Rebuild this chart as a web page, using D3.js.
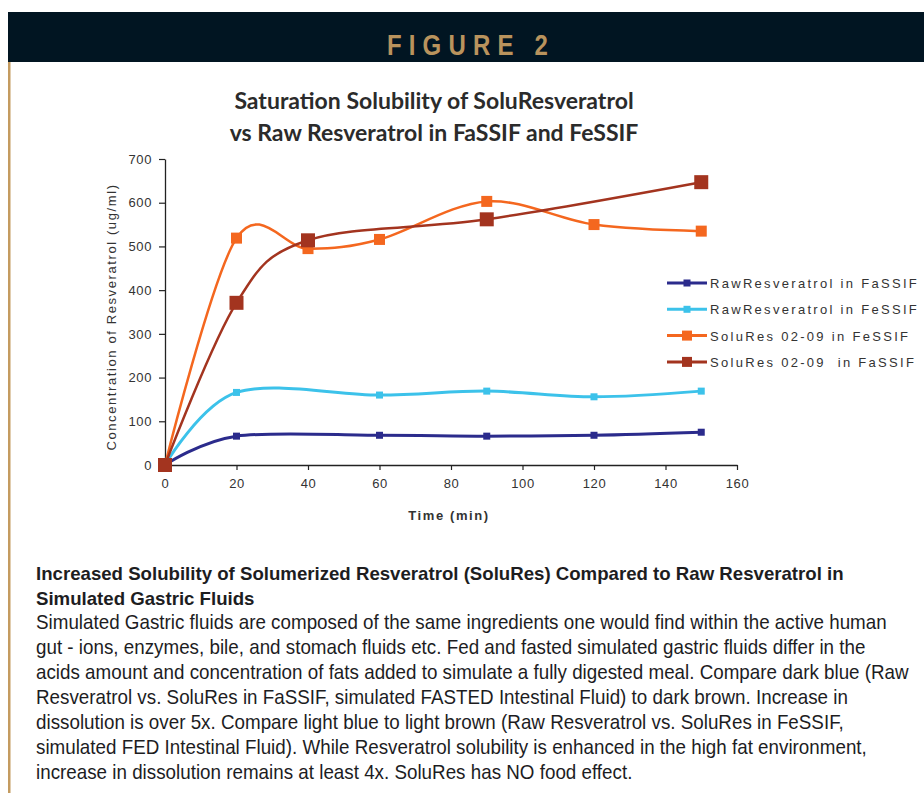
<!DOCTYPE html>
<html>
<head>
<meta charset="utf-8">
<script src="https://d3js.org/d3.v7.min.js"></script>
<style>
  body { margin: 0; background: #fff; }
  svg { display: block; }
</style>
</head>
<body>
<div id="vis"></div>
<script>
// chart data
var times = [0, 20, 40, 60, 90, 120, 150];
var rawFaSSIF = [0, 66, null, 68, 66, 68, 75];
var rawFeSSIF = [0, 166, null, 160, 169, 156, 169];
var soluFeSSIF = [0, 519, 495, 516, 603, 550, 535];
var soluFaSSIF = [0, 371, 514, null, 562, null, 647];

var seriesNames = ['RawResveratrol in FaSSIF', 'RawResveratrol in FeSSIF',
                   'SoluRes 02-09 in FeSSIF', 'SoluRes 02-09  in FaSSIF'];
var xTicks = [0, 20, 40, 60, 80, 100, 120, 140, 160];
var yTicks = [0, 100, 200, 300, 400, 500, 600, 700];

var captionTitle = [
    'Increased Solubility of Solumerized Resveratrol (SoluRes) Compared to Raw Resveratrol in',
    'Simulated Gastric Fluids'
];
var captionBody = [
    'Simulated Gastric fluids are composed of the same ingredients one would find within the active human',
    'gut - ions, enzymes, bile, and stomach fluids etc. Fed and fasted simulated gastric fluids differ in the',
    'acids amount and concentration of fats added to simulate a fully digested meal. Compare dark blue (Raw',
    'Resveratrol vs. SoluRes in FaSSIF, simulated FASTED Intestinal Fluid) to dark brown. Increase in',
    'dissolution is over 5x. Compare light blue to light brown (Raw Resveratrol vs. SoluRes in FeSSIF,',
    'simulated FED Intestinal Fluid). While Resveratrol solubility is enhanced in the high fat environment,',
    'increase in dissolution remains at least 4x. SoluRes has NO food effect.'
];

var width = 924;
var height = 793;

var styles = [
    {color: '#2b2b8c', marker: 7, stroke: 3},
    {color: '#3cc2ea', marker: 7, stroke: 3},
    {color: '#f4671f', marker: 11, stroke: 2.5},
    {color: '#a3341f', marker: 14, stroke: 2.5}
];

var svg = d3.select('#vis').append('svg')
    .attr('width', width)
    .attr('height', height);

// header band
svg.append('rect')
    .attr('x', 8).attr('y', 12)
    .attr('width', width - 8).attr('height', 50)
    .attr('fill', '#011522');
svg.append('rect')
    .attr('x', 8).attr('y', 62)
    .attr('width', 2.5).attr('height', height - 62)
    .attr('fill', '#c49b60');
svg.append('text')
    .attr('transform', 'translate(471,55) scale(0.8,1)')
    .attr('text-anchor', 'middle')
    .style('font-family', '"Liberation Sans", Arial, sans-serif')
    .style('font-weight', 'bold')
    .style('font-size', '30px')
    .style('letter-spacing', '9px')
    .style('fill', '#b9935d')
    .text('FIGURE 2');

// chart title
svg.append('g').selectAll('text')
    .data(['Saturation Solubility of SoluResveratrol', 'vs Raw Resveratrol in FaSSIF and FeSSIF'])
    .enter().append('text')
    .attr('x', 434)
    .attr('y', function (d, i) { return 109 + i * 32; })
    .attr('text-anchor', 'middle')
    .style('font-family', 'Lato, "Open Sans", sans-serif')
    .style('font-weight', 'bold')
    .style('font-size', '23px')
    .style('fill', '#2b2b2b')
    .text(function (d) { return d; });

var x = d3.scaleLinear().domain([0, 160]).range([165, 737]);
var y = d3.scaleLinear().domain([0, 700]).range([465, 159]);

var axisFont = '"Liberation Sans", Arial, sans-serif';

var xAxis = svg.append('g')
    .attr('transform', 'translate(0,' + y(0) + ')')
    .call(d3.axisBottom(x).tickValues(xTicks).tickSize(5).tickPadding(9).tickSizeOuter(0));
var yAxis = svg.append('g')
    .attr('transform', 'translate(' + x(0) + ',0)')
    .call(d3.axisLeft(y).tickValues(yTicks).tickSize(6).tickPadding(7).tickSizeOuter(0));

[xAxis, yAxis].forEach(function (ax) {
    ax.select('.domain').attr('stroke', '#222').attr('stroke-width', 1.3);
    ax.selectAll('.tick line').attr('stroke', '#222').attr('stroke-width', 1.2);
    ax.selectAll('.tick text')
        .style('font-family', axisFont)
        .style('font-size', '13px')
        .style('letter-spacing', '0.6px')
        .style('fill', '#333');
});

svg.append('text')
    .attr('x', 449).attr('y', 520)
    .attr('text-anchor', 'middle')
    .style('font-family', axisFont)
    .style('font-weight', 'bold')
    .style('font-size', '13px')
    .style('letter-spacing', '1.6px')
    .style('fill', '#333')
    .text('Time (min)');

svg.append('text')
    .attr('transform', 'translate(116,317) rotate(-90)')
    .attr('text-anchor', 'middle')
    .style('font-family', axisFont)
    .style('font-size', '13px')
    .style('letter-spacing', '1.6px')
    .style('fill', '#333')
    .text('Concentration of Resveratrol (ug/ml)');

// series
var allSeries = [rawFaSSIF, rawFeSSIF, soluFeSSIF, soluFaSSIF].map(function (vals, i) {
    var pts = [];
    vals.forEach(function (v, j) {
        if (v !== null) pts.push({t: times[j], v: v});
    });
    return {name: seriesNames[i], points: pts, style: styles[i]};
});

var line = d3.line()
    .x(function (d) { return x(d.t); })
    .y(function (d) { return y(d.v); })
    .curve(d3.curveCardinal.tension(0));

var seriesG = svg.append('g').selectAll('g')
    .data(allSeries)
    .enter().append('g');

seriesG.append('path')
    .attr('d', function (d) { return line(d.points); })
    .attr('fill', 'none')
    .attr('stroke', function (d) { return d.style.color; })
    .attr('stroke-width', function (d) { return d.style.stroke; });

seriesG.each(function (s) {
    d3.select(this).selectAll('rect')
        .data(s.points)
        .enter().append('rect')
        .attr('x', function (d) { return x(d.t) - s.style.marker / 2; })
        .attr('y', function (d) { return y(d.v) - s.style.marker / 2; })
        .attr('width', s.style.marker)
        .attr('height', s.style.marker)
        .attr('fill', s.style.color);
});

// legend
var legend = svg.append('g').selectAll('g')
    .data(allSeries)
    .enter().append('g')
    .attr('transform', function (d, i) { return 'translate(667,' + (283 + i * 26.3) + ')'; });

legend.append('line')
    .attr('x1', 0).attr('x2', 40)
    .attr('stroke', function (d) { return d.style.color; })
    .attr('stroke-width', 3);
legend.append('rect')
    .attr('x', function (d) { return 20 - Math.min(d.style.marker, 10) / 2; })
    .attr('y', function (d) { return -Math.min(d.style.marker, 10) / 2; })
    .attr('width', function (d) { return Math.min(d.style.marker, 10); })
    .attr('height', function (d) { return Math.min(d.style.marker, 10); })
    .attr('fill', function (d) { return d.style.color; });
legend.append('text')
    .attr('x', 43).attr('y', 5)
    .style('font-family', axisFont)
    .style('font-size', '13px')
    .style('letter-spacing', '2.3px')
    .style('fill', '#333')
    .style('white-space', 'pre')
    .text(function (d) { return d.name; });

// caption: condensed look by squeezing the text horizontally
function captionBlock(lines, y0, size, weight, targetWidth) {
    var g = svg.append('g');
    var texts = g.selectAll('text')
        .data(lines)
        .enter().append('text')
        .attr('x', 0)
        .attr('y', function (d, i) { return y0 + i * 25; })
        .style('font-family', axisFont)
        .style('font-weight', weight)
        .style('font-size', size)
        .style('fill', '#1d1d1f')
        .text(function (d) { return d; });
    var w = texts.node().getComputedTextLength();
    g.attr('transform', 'translate(36,0) scale(' + (targetWidth / w) + ',1)');
}

captionBlock(captionTitle, 580, '19px', 'bold', 808);
captionBlock(captionBody, 629, '20px', 'normal', 851);
</script>
</body>
</html>
